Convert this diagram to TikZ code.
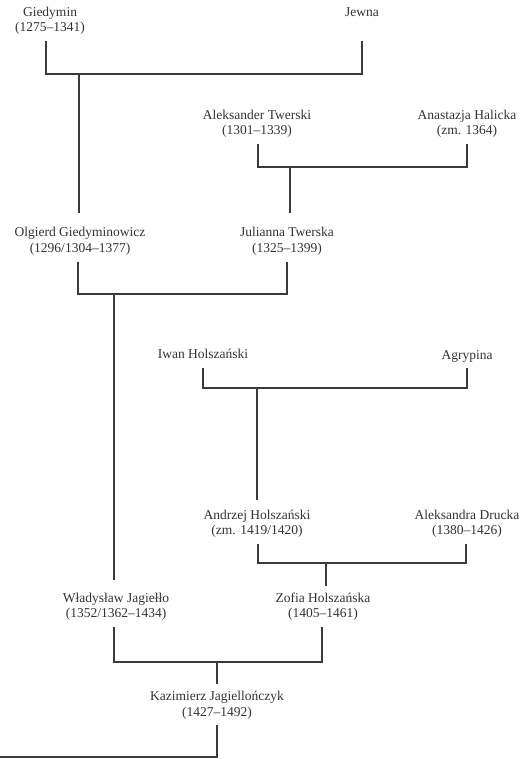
\documentclass[tikz,border=0pt]{standalone}
\usepackage{fontspec}
\setmainfont{Liberation Serif}
\usetikzlibrary{calc}
\definecolor{txt}{HTML}{333333}
\definecolor{lnc}{HTML}{3A3A3A}
\begin{document}
\begin{tikzpicture}[x=1bp,y=-1bp,
  person/.style={align=center, inner sep=0pt, text=txt,
    font=\fontsize{13.5bp}{15.5bp}\selectfont},
  ln/.style={draw=lnc, line width=1.1bp}]
\useasboundingbox (0,0) rectangle (528,759);
% persons
\node[person] (gied)  at (50,21)    {Giedymin\\(1275–1341)};
\node[person] (jewna) at (362,12)   {Jewna};
\node[person] (alek)  at (257,124)  {Aleksander Twerski\\(1301–1339)};
\node[person] (anast) at (467,124)  {Anastazja Halicka\\(zm. 1364)};
\node[person] (olg)   at (80,241.5) {Olgierd Giedyminowicz\\(1296/1304–1377)};
\node[person] (jul)   at (287,241.5){Julianna Twerska\\(1325–1399)};
\node[person] (iwan)  at (203,354)  {Iwan Holszański};
\node[person] (agr)   at (467,356)  {Agrypina};
\node[person] (andrz) at (257,523.5){Andrzej Holszański\\(zm. 1419/1420)};
\node[person] (aleks) at (467,523.5){Aleksandra Drucka\\(1380–1426)};
\node[person] (wlad)  at (116,606.5){Władysław Jagiełło\\(1352/1362–1434)};
\node[person] (zofia) at (323,606.5){Zofia Holszańska\\(1405–1461)};
\node[person] (kaz)   at (217,705)  {Kazimierz Jagiellończyk\\(1427–1492)};
% junctions
\coordinate (m1) at (79,74);
\coordinate (m2) at (290,167);
\coordinate (m3) at (114,294);
\coordinate (m4) at (257,388);
\coordinate (m5) at (326,563);
\coordinate (m6) at (217,662);
\coordinate (end) at (0,757);
% starts of couple lines
\coordinate (s1) at ($(gied.south)+(-4,6)$);
\coordinate (s2) at ($(alek.south)+(1,6)$);
\coordinate (s3) at ($(olg.south)+(-2,6)$);
\coordinate (s4) at ($(iwan.south)+(0,9)$);
\coordinate (s5) at ($(andrz.south)+(1,6)$);
\coordinate (s6) at ($(wlad.south)+(-2,6)$);
% couples
\draw[ln] (s1) |- (m1) -| (jewna.south |- s1);
\draw[ln] (s2) |- (m2) -| ($(anast.south |- s2)+(0,0)$);
\draw[ln] (s3) |- (m3) -| (jul.south |- s3);
\draw[ln] (s4) |- (m4) -| (agr.south |- s4);
\draw[ln] (s5) |- (m5) -| ($(aleks.south |- s5)+(-1,0)$);
\draw[ln] (s6) |- (m6) -| ($(zofia.south |- s6)+(-1,0)$);
% children
\draw[ln] (m1) -- ($(m1 |- olg.north)+(0,-14)$);
\draw[ln] (m2) -- ($(m2 |- jul.north)+(0,-14)$);
\draw[ln] (m3) -- ($(m3 |- wlad.north)+(0,-12)$);
\draw[ln] (m4) -- ($(m4 |- andrz.north)+(0,-9)$);
\draw[ln] (m5) -- ($(m5 |- zofia.north)+(0,-6)$);
\draw[ln] (m6) -- ($(m6 |- kaz.north)+(0,-7)$);
\draw[ln] ($(kaz.south)+(0,6)$) |- (end);
\end{tikzpicture}
\end{document}
